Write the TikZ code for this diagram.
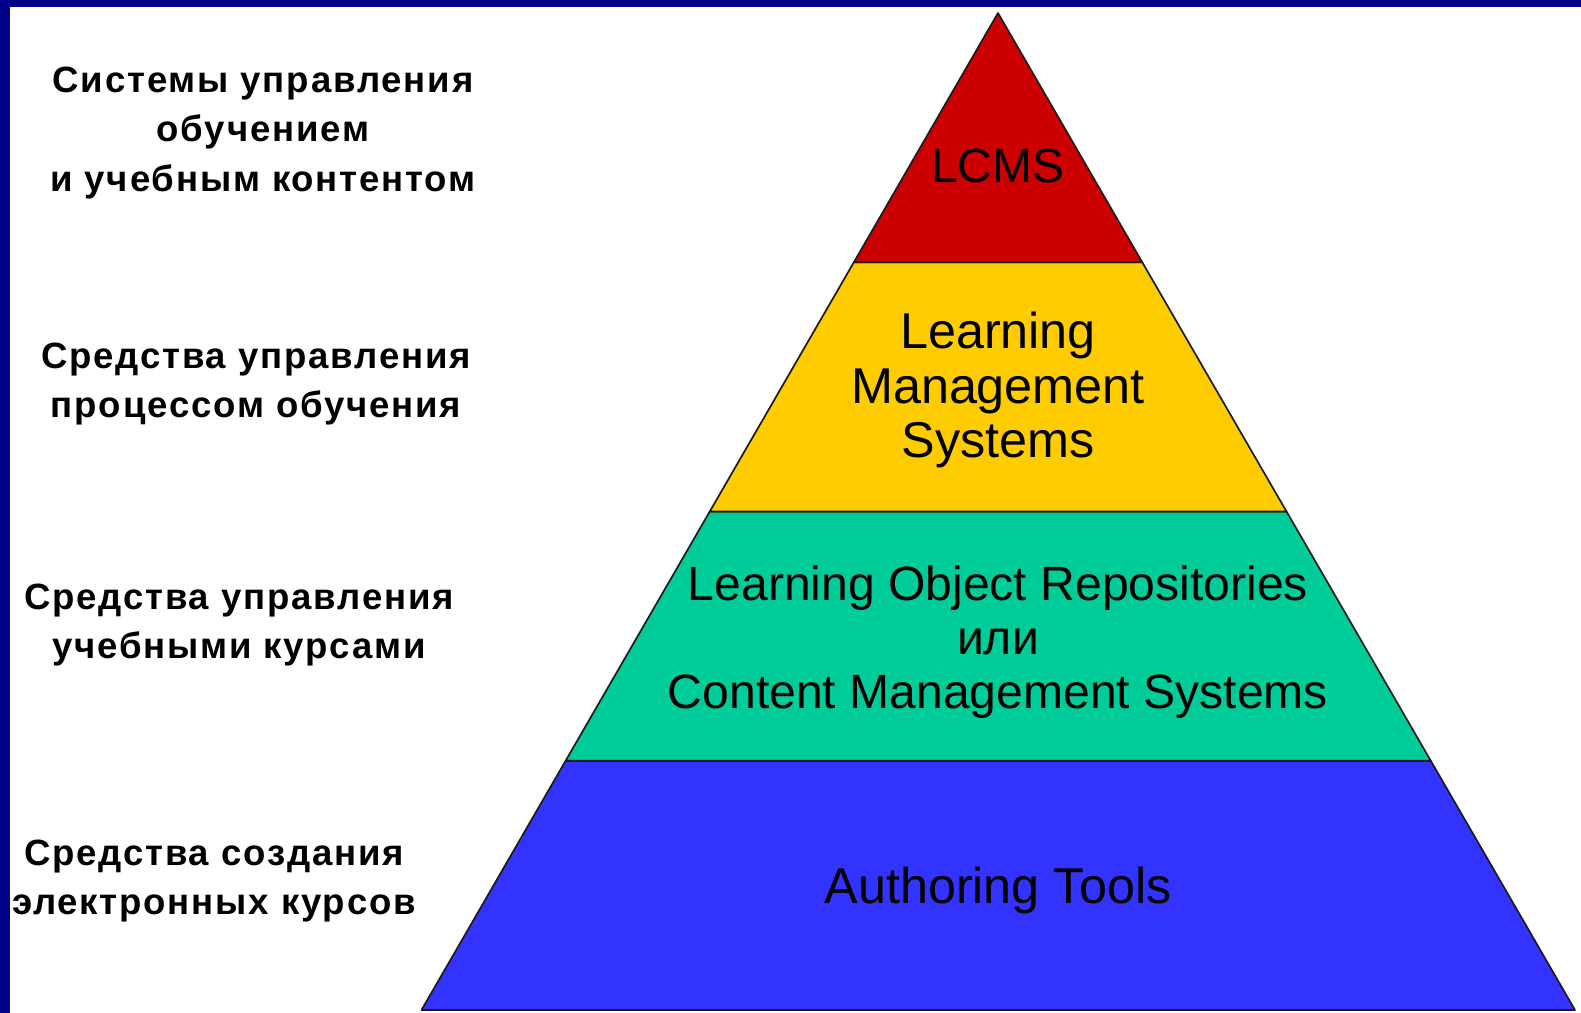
\documentclass[tikz,border=0pt]{standalone}
\usepackage{fontspec}
\setmainfont{Liberation Sans}
\newfontfamily\labfont[LetterSpace=5]{Liberation Sans Bold}
\usetikzlibrary{calc}
\definecolor{frameblue}{HTML}{000088}
\definecolor{lvred}{HTML}{CC0000}
\definecolor{lvyellow}{HTML}{FFCC00}
\definecolor{lvgreen}{HTML}{00CC99}
\definecolor{lvblue}{HTML}{3333FF}
\definecolor{edge}{HTML}{1A1A1A}
\tikzset{
  band/.style={draw=edge, line width=1.2pt, line join=round},
  ptext/.style={font=\fontsize{34.2pt}{38.7pt}\selectfont, align=center, text=black, inner sep=0pt},
  ptextbig/.style={font=\fontsize{35.8pt}{38.7pt}\selectfont, align=center, text=black, inner sep=0pt},
  ltext/.style={font=\labfont\fontsize{26pt}{35.1pt}\selectfont, align=center, text=black, inner sep=0pt}
}
\begin{document}
\begin{tikzpicture}[x=0.025cm, y=-0.025cm]
\useasboundingbox (0,0) rectangle (1581,1013);
\fill[white] (0,0) rectangle (1581,1013);
\fill[frameblue] (0,0) rectangle (1581,7);
\fill[frameblue] (0,0) rectangle (10,1013);
\coordinate (A) at (998,13);
\coordinate (BL) at (421.5,1010);
\coordinate (BR) at (1575,1010);
\coordinate (L1) at ($(A)!0.25!(BL)$);
\coordinate (R1) at ($(A)!0.25!(BR)$);
\coordinate (L2) at ($(A)!0.5!(BL)$);
\coordinate (R2) at ($(A)!0.5!(BR)$);
\coordinate (L3) at ($(A)!0.75!(BL)$);
\coordinate (R3) at ($(A)!0.75!(BR)$);
\fill[lvblue, band] (L3) -- (R3) -- (BR) -- (BL) -- cycle;
\fill[lvgreen, band] (L2) -- (R2) -- (R3) -- (L3) -- cycle;
\fill[lvyellow, band] (L1) -- (R1) -- (R2) -- (L2) -- cycle;
\fill[lvred, band] (A) -- (R1) -- (L1) -- cycle;
\node[ptext] (lcms) at (998,166) {LCMS};
\node[ptextbig] (lms) at (998,390) {Learning\\Management\\Systems};
\node[ptext] (lor) at (998,642) {Learning Object Repositories\\или\\Content Management Systems};
\node[ptextbig] (at) at (998,890) {Authoring Tools};
\node[ltext] (t1) at (263,133) {Системы управления\\обучением\\и учебным контентом};
\node[ltext] (t2) at (256,384) {Средства управления\\процессом обучения};
\node[ltext] (t3) at (239,625) {Средства управления\\учебными курсами};
\node[ltext] (t4) at (214,881) {Средства создания\\электронных курсов};
\end{tikzpicture}
\end{document}
